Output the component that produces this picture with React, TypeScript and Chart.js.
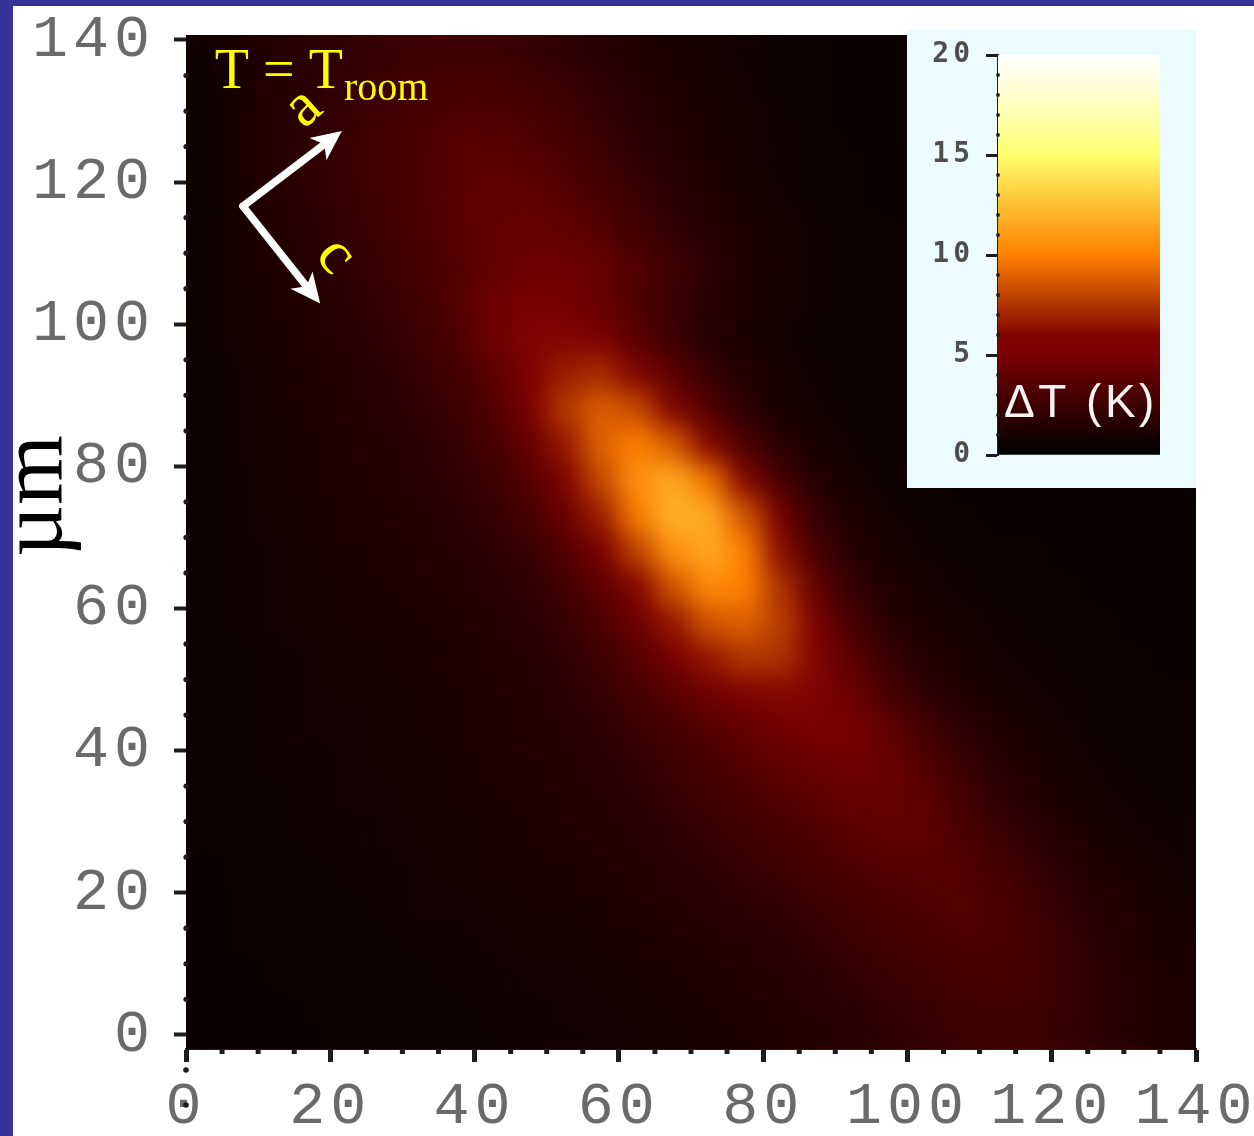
import React, { useEffect, useRef } from "react";
import { Chart, registerables } from "chart.js";

Chart.register(...registerables);

const majorTicks = [0, 20, 40, 60, 80, 100, 120, 140];
const minorTicks = [5, 10, 15, 25, 30, 35, 45, 50, 55, 65, 70, 75, 85, 90, 95, 105, 110, 115, 125, 130, 135];
const columnCenters = [2.5, 7.5, 12.5, 17.5, 22.5, 27.5, 32.5, 37.5, 42.5, 47.5, 52.5, 57.5, 62.5, 67.5, 72.5, 77.5, 82.5, 87.5, 92.5, 97.5, 102.5, 107.5, 112.5, 117.5, 122.5, 127.5, 132.5, 137.5];
const rowCenters = [138.5, 133, 128, 123, 118, 113, 108, 103, 98, 93, 88, 83, 78, 73, 68, 63, 58, 53, 48, 43, 38, 33, 28, 23, 18, 13, 8, 3, -2];

const deltaT = [
  [.5, 1.0, 1.4, 1.7, 2.0, 2.2, 2.4, 2.5, 2.4, 2.2, 1.9, 1.6, 1.3, 1.1, .9, .7, .6, .5, .4, .4, .3, .3, .3, .3, .3, .3, .3, .3],
  [.5, 1.1, 1.5, 1.9, 2.2, 2.5, 2.8, 3.0, 3.0, 2.7, 2.4, 2.0, 1.6, 1.3, 1.0, .8, .6, .5, .4, .4, .3, .3, .3, .3, .3, .3, .3, .3],
  [.5, 1.1, 1.6, 2.0, 2.3, 2.7, 3.1, 3.4, 3.5, 3.2, 2.8, 2.3, 1.8, 1.4, 1.1, .9, .7, .5, .4, .4, .3, .3, .3, .3, .3, .3, .3, .3],
  [.5, 1.1, 1.6, 2.0, 2.4, 2.8, 3.2, 3.6, 3.8, 3.6, 3.2, 2.6, 2.0, 1.6, 1.2, .9, .7, .6, .5, .4, .4, .3, .3, .3, .3, .3, .3, .3],
  [.5, 1.1, 1.5, 1.9, 2.3, 2.7, 3.2, 3.7, 4.0, 4.0, 3.6, 3.0, 2.4, 1.8, 1.4, 1.0, .8, .6, .5, .4, .4, .4, .3, .3, .3, .3, .3, .3],
  [.5, 1.0, 1.4, 1.8, 2.2, 2.6, 3.1, 3.6, 4.1, 4.3, 4.1, 3.5, 2.8, 2.1, 1.6, 1.2, .9, .7, .5, .5, .4, .4, .4, .3, .3, .3, .3, .3],
  [.5, 1.0, 1.3, 1.6, 2.0, 2.4, 2.9, 3.4, 4.1, 4.6, 4.7, 4.2, 3.4, 2.6, 1.9, 1.3, 1.0, .7, .6, .5, .4, .4, .4, .4, .4, .4, .4, .4],
  [.5, .9, 1.2, 1.5, 1.8, 2.2, 2.7, 3.5, 4.6, 5.1, 4.9, 4.3, 3.3, 2.4, 1.7, 1.2, .9, .7, .5, .5, .4, .4, .4, .4, .4, .4, .4, .4],
  [.5, .9, 1.1, 1.4, 1.7, 2.0, 2.5, 3.2, 4.6, 5.8, 6.0, 5.2, 3.8, 2.5, 1.6, 1.1, .8, .6, .5, .5, .4, .4, .4, .4, .4, .4, .4, .4],
  [.5, .8, 1.0, 1.3, 1.5, 1.8, 2.2, 2.8, 3.8, 5.4, 6.8, 7.2, 5.8, 3.8, 2.3, 1.4, .9, .7, .5, .5, .4, .4, .4, .4, .4, .4, .4, .4],
  [.5, .8, 1.0, 1.2, 1.4, 1.7, 2.0, 2.5, 3.4, 5.0, 7.6, 8.9, 8.2, 5.8, 3.4, 1.9, 1.1, .8, .6, .5, .4, .4, .4, .4, .4, .4, .4, .4],
  [.5, .8, .9, 1.1, 1.3, 1.5, 1.8, 2.2, 2.9, 4.2, 6.6, 9.0, 10.0, 8.8, 6.0, 3.2, 1.7, 1.0, .7, .5, .5, .4, .4, .4, .4, .4, .4, .4],
  [.5, .7, .9, 1.1, 1.3, 1.4, 1.7, 2.0, 2.5, 3.5, 5.6, 8.2, 10.6, 11.6, 9.6, 6.0, 3.0, 1.5, .9, .6, .5, .4, .4, .4, .4, .4, .4, .4],
  [.5, .7, .9, 1.0, 1.2, 1.3, 1.5, 1.8, 2.2, 2.9, 4.4, 6.8, 9.8, 12.0, 11.6, 8.6, 4.8, 2.2, 1.2, .8, .6, .5, .4, .4, .4, .4, .4, .4],
  [.5, .7, .8, 1.0, 1.1, 1.2, 1.4, 1.6, 1.9, 2.3, 3.4, 5.0, 8.0, 10.6, 11.6, 10.0, 6.2, 3.0, 1.6, 1.0, .7, .6, .5, .5, .4, .4, .4, .4],
  [.5, .7, .8, .9, 1.0, 1.1, 1.3, 1.4, 1.7, 2.0, 2.7, 3.9, 6.0, 8.6, 10.4, 10.0, 7.4, 4.0, 2.2, 1.3, .9, .7, .6, .5, .5, .4, .4, .4],
  [.5, .7, .8, .9, 1.0, 1.0, 1.1, 1.3, 1.5, 1.8, 2.3, 3.2, 4.6, 6.6, 8.6, 9.0, 7.8, 5.0, 2.9, 1.7, 1.1, .9, .7, .6, .5, .5, .4, .4],
  [.5, .6, .7, .8, .9, 1.0, 1.1, 1.2, 1.4, 1.6, 2.0, 2.6, 3.6, 5.0, 6.6, 7.6, 7.4, 5.8, 3.8, 2.3, 1.5, 1.1, .8, .7, .6, .5, .5, .4],
  [.5, .6, .7, .8, .9, .9, 1.0, 1.1, 1.3, 1.5, 1.8, 2.2, 2.9, 3.7, 4.7, 5.6, 6.1, 5.6, 4.4, 3.0, 2.0, 1.4, 1.0, .8, .7, .6, .5, .5],
  [.5, .6, .7, .8, .8, .9, 1.0, 1.1, 1.2, 1.4, 1.6, 1.9, 2.4, 2.9, 3.5, 4.2, 4.8, 5.2, 5.0, 4.0, 2.8, 1.9, 1.3, 1.0, .8, .6, .6, .5],
  [.5, .6, .7, .7, .8, .9, .9, 1.0, 1.2, 1.3, 1.5, 1.7, 2.1, 2.5, 3.0, 3.5, 4.0, 4.5, 4.7, 4.4, 3.4, 2.4, 1.7, 1.2, .9, .7, .6, .5],
  [.5, .6, .6, .7, .8, .8, .9, 1.0, 1.1, 1.2, 1.4, 1.6, 1.8, 2.2, 2.6, 3.0, 3.4, 3.8, 4.2, 4.3, 3.8, 2.9, 2.1, 1.5, 1.1, .8, .7, .6],
  [.5, .5, .6, .7, .7, .8, .9, .9, 1.0, 1.1, 1.3, 1.4, 1.6, 1.9, 2.2, 2.6, 2.9, 3.3, 3.7, 3.9, 3.9, 3.3, 2.5, 1.9, 1.4, 1.0, .8, .7],
  [.4, .5, .6, .6, .7, .7, .8, .9, 1.0, 1.0, 1.1, 1.3, 1.5, 1.7, 1.9, 2.2, 2.5, 2.9, 3.2, 3.5, 3.6, 3.5, 2.9, 2.3, 1.7, 1.2, 1.0, .8],
  [.4, .5, .5, .6, .6, .7, .8, .8, .9, 1.0, 1.0, 1.1, 1.3, 1.5, 1.7, 1.9, 2.1, 2.4, 2.8, 3.1, 3.3, 3.5, 3.2, 2.6, 2.0, 1.5, 1.2, .9],
  [.4, .5, .5, .5, .6, .6, .7, .7, .8, .9, .9, 1.0, 1.1, 1.3, 1.4, 1.6, 1.8, 2.1, 2.4, 2.7, 3.0, 3.2, 3.2, 2.8, 2.2, 1.7, 1.3, 1.0],
  [.4, .4, .5, .5, .5, .6, .6, .7, .7, .8, .8, .9, 1.0, 1.1, 1.2, 1.4, 1.6, 1.8, 2.1, 2.4, 2.6, 2.9, 3.0, 2.8, 2.3, 1.8, 1.4, 1.1],
  [.3, .4, .4, .5, .5, .5, .6, .6, .7, .7, .8, .8, .9, 1.0, 1.1, 1.2, 1.4, 1.6, 1.8, 2.1, 2.3, 2.6, 2.7, 2.6, 2.2, 1.8, 1.4, 1.1],
  [.3, .4, .4, .4, .5, .5, .5, .6, .6, .7, .7, .8, .8, .9, 1.0, 1.1, 1.3, 1.4, 1.6, 1.9, 2.1, 2.3, 2.5, 2.4, 2.1, 1.7, 1.3, 1.0],
];

const colorValues = [0, 5, 6, 10, 12.5, 15, 17.5, 20];
const colorStops = [[0, 0, 0], [120, 0, 0], [128, 6, 0], [255, 128, 0], [255, 192, 50], [255, 255, 110], [255, 255, 190], [255, 255, 255]];

const barValues = [20];
const barTicks = [0, 5, 10, 15, 20];
const barMinorTicks = [1, 2, 3, 4, 6, 7, 8, 9, 11, 12, 13, 14, 16, 17, 18, 19];

const arrowOrigin = { x: 7.9, y: 116.6 };
const arrowA = { x: 21.6, y: 127.2 };
const arrowC = { x: 18.6, y: 102.9 };

const TICK = "#1c1c1c";
const LABEL = "#6a6a6a";
const YELLOW = "#ffff00";

function colorFor(v: number) {
  let i = 0;
  while (i < colorValues.length - 2 && v > colorValues[i + 1]) i++;
  const t = Math.min(1, Math.max(0, (v - colorValues[i]) / (colorValues[i + 1] - colorValues[i])));
  const c = colorStops[i].map((a, k) => Math.round(a + (colorStops[i + 1][k] - a) * t));
  return `rgb(${c[0]},${c[1]},${c[2]})`;
}

const heatPoints: { x: number; y: number }[] = [];
const heatColors: string[] = [];
rowCenters.forEach((y, r) => {
  columnCenters.forEach((x, c) => {
    heatPoints.push({ x, y });
    heatColors.push(colorFor(deltaT[r][c]));
  });
});

function rotatedText(ctx: any, text: string, x: number, y: number, deg: number, font: string, color: string) {
  ctx.save();
  ctx.translate(x, y);
  ctx.rotate((deg * Math.PI) / 180);
  ctx.font = font;
  ctx.fillStyle = color;
  ctx.textAlign = "center";
  ctx.textBaseline = "alphabetic";
  ctx.fillText(text, 0, 0);
  ctx.restore();
}

function arrow(ctx: any, x0: number, y0: number, x1: number, y1: number) {
  const ang = Math.atan2(y1 - y0, x1 - x0);
  const head = 30;
  const half = 14;
  const inset = 8;
  const bx = x1 - head * Math.cos(ang);
  const by = y1 - head * Math.sin(ang);
  ctx.save();
  ctx.strokeStyle = "#ffffff";
  ctx.fillStyle = "#ffffff";
  ctx.lineWidth = 7.5;
  ctx.lineCap = "round";
  ctx.beginPath();
  ctx.moveTo(x0, y0);
  ctx.lineTo(bx + inset * Math.cos(ang), by + inset * Math.sin(ang));
  ctx.stroke();
  ctx.beginPath();
  ctx.moveTo(x1, y1);
  ctx.lineTo(bx + half * Math.sin(ang), by - half * Math.cos(ang));
  ctx.lineTo(bx + inset * Math.cos(ang), by + inset * Math.sin(ang));
  ctx.lineTo(bx - half * Math.sin(ang), by + half * Math.cos(ang));
  ctx.closePath();
  ctx.fill();
  ctx.restore();
}

const clearPadding = (s: any) => {
  s.paddingTop = 0;
  s.paddingBottom = 0;
  s.paddingLeft = 0;
  s.paddingRight = 0;
};

const smoothPlugin = {
  id: "smooth",
  beforeDraw(chart: any) {
    chart.ctx.letterSpacing = "5px";
  },
  afterDatasetsDraw(chart: any) {
    const a = chart.chartArea;
    const w = a.right - a.left;
    const h = a.bottom - a.top;
    const pad = 50;
    const tmp = document.createElement("canvas");
    tmp.width = w + 2 * pad;
    tmp.height = h + 2 * pad;
    const t = tmp.getContext("2d")!;
    t.drawImage(chart.canvas, a.left, a.top, w, h, 0, 0, w + 2 * pad, h + 2 * pad);
    t.drawImage(chart.canvas, a.left, a.top, w, h, pad, pad, w, h);
    const ctx = chart.ctx;
    ctx.save();
    ctx.beginPath();
    ctx.rect(a.left, a.top, w, h);
    ctx.clip();
    ctx.filter = "blur(13px)";
    ctx.drawImage(tmp, a.left - pad, a.top - pad);
    ctx.restore();
  },
  afterDraw(chart: any) {
    const ctx = chart.ctx;
    const xs = chart.scales.x;
    const ys = chart.scales.y;
    const a = chart.chartArea;
    ctx.save();
    ctx.letterSpacing = "0px";
    ctx.fillStyle = TICK;
    minorTicks.forEach((v) => {
      ctx.fillRect(xs.getPixelForValue(v) - 2.5, a.bottom, 5, 5);
      ctx.beginPath();
      ctx.arc(a.left, ys.getPixelForValue(v), 2.6, 0, Math.PI * 2);
      ctx.fill();
    });
    [1070, 1105].forEach((py) => {
      ctx.beginPath();
      ctx.arc(a.left, py, 2.8, 0, Math.PI * 2);
      ctx.fill();
    });

    arrow(ctx, xs.getPixelForValue(arrowOrigin.x), ys.getPixelForValue(arrowOrigin.y), xs.getPixelForValue(arrowA.x), ys.getPixelForValue(arrowA.y));
    arrow(ctx, xs.getPixelForValue(arrowOrigin.x), ys.getPixelForValue(arrowOrigin.y), xs.getPixelForValue(arrowC.x), ys.getPixelForValue(arrowC.y));

    ctx.font = "56px 'Liberation Serif'";
    ctx.fillStyle = YELLOW;
    ctx.textAlign = "left";
    ctx.textBaseline = "alphabetic";
    ctx.fillText("T = T", xs.getPixelForValue(4), ys.getPixelForValue(133.3));
    ctx.font = "40px 'Liberation Serif'";
    ctx.fillText("room", xs.getPixelForValue(21.9), ys.getPixelForValue(131.6));
    rotatedText(ctx, "a", xs.getPixelForValue(17.8), ys.getPixelForValue(128.7), -42, "62px 'Liberation Serif'", YELLOW);
    rotatedText(ctx, "c", xs.getPixelForValue(19), ys.getPixelForValue(108.1), 50, "62px 'Liberation Serif'", YELLOW);
    rotatedText(ctx, "\u00b5m", 62, 496, -90, "90px 'Liberation Serif'", "#000000");
    ctx.restore();
  },
};

const insetPlugin = {
  id: "inset",
  beforeDraw(chart: any) {
    const ctx = chart.ctx;
    ctx.save();
    ctx.fillStyle = "#ecfbfd";
    ctx.fillRect(0, 0, chart.width, chart.height);
    ctx.restore();
    ctx.letterSpacing = "4px";
  },
  afterDraw(chart: any) {
    const ctx = chart.ctx;
    const ys = chart.scales.y;
    const a = chart.chartArea;
    ctx.save();
    ctx.letterSpacing = "0px";
    ctx.fillStyle = TICK;
    barMinorTicks.forEach((v) => {
      ctx.beginPath();
      ctx.arc(a.left, ys.getPixelForValue(v), 1.9, 0, Math.PI * 2);
      ctx.fill();
    });
    ctx.letterSpacing = "3.5px";
    ctx.font = "46px 'Liberation Sans'";
    ctx.fillStyle = "#fff4f2";
    ctx.textAlign = "left";
    ctx.textBaseline = "alphabetic";
    ctx.fillText("\u0394T (K)", a.left + 6, ys.getPixelForValue(1.9));
    ctx.restore();
  },
};

export default function App() {
  const mainRef = useRef<HTMLCanvasElement>(null);
  const insetRef = useRef<HTMLCanvasElement>(null);

  useEffect(() => {
    const main = new Chart(mainRef.current!, {
      type: "scatter",
      data: {
        datasets: [
          {
            data: heatPoints,
            pointStyle: "rect",
            pointRadius: 26,
            pointHoverRadius: 26,
            pointBorderWidth: 0,
            pointBackgroundColor: heatColors,
            showLine: false,
          },
        ],
      },
      options: {
        responsive: false,
        animation: false,
        events: [],
        layout: { padding: { left: 0, top: 35, right: 58, bottom: 0 } },
        plugins: { legend: { display: false }, tooltip: { enabled: false }, title: { display: false } },
        scales: {
          x: {
            type: "linear",
            min: 0,
            max: 140,
            afterBuildTicks: (s: any) => {
              s.ticks = majorTicks.map((value) => ({ value }));
            },
            afterFit: (s: any) => {
              s.height = 87;
              clearPadding(s);
            },
            grid: { drawOnChartArea: false, drawTicks: true, tickLength: 13, tickWidth: 5, tickColor: TICK },
            border: { display: true, color: TICK, width: 2 },
            ticks: {
              autoSkip: false,
              maxRotation: 0,
              padding: 9,
              color: LABEL,
              font: { family: "'Liberation Mono'", size: 60 },
            },
          },
          y: {
            type: "linear",
            min: -2,
            max: 140.7,
            afterBuildTicks: (s: any) => {
              s.ticks = majorTicks.map((value) => ({ value }));
            },
            afterFit: (s: any) => {
              s.width = 186;
              clearPadding(s);
            },
            grid: { drawOnChartArea: false, drawTicks: true, tickLength: 12, tickWidth: 4, tickColor: TICK },
            border: { display: false },
            ticks: {
              autoSkip: false,
              padding: 19,
              color: LABEL,
              font: { family: "'Liberation Mono'", size: 60 },
            },
          },
        },
      },
      plugins: [smoothPlugin],
    } as any);

    const inset = new Chart(insetRef.current!, {
      type: "bar",
      data: {
        labels: ["\u0394T"],
        datasets: [
          {
            data: barValues,
            barPercentage: 1,
            categoryPercentage: 1,
            backgroundColor: (c: any) => {
              const s = c.chart.scales.y;
              const bottom = s ? s.getPixelForValue(0) : NaN;
              const top = s ? s.getPixelForValue(20) : NaN;
              if (!Number.isFinite(bottom) || !Number.isFinite(top)) return "#000";
              const g = c.chart.ctx.createLinearGradient(0, bottom, 0, top);
              colorValues.forEach((v, i) => {
                const p = colorStops[i];
                g.addColorStop(v / 20, `rgb(${p[0]},${p[1]},${p[2]})`);
              });
              return g;
            },
          },
        ],
      },
      options: {
        responsive: false,
        animation: false,
        events: [],
        layout: { padding: { left: 0, top: 25, right: 36, bottom: 33 } },
        plugins: { legend: { display: false }, tooltip: { enabled: false }, title: { display: false } },
        scales: {
          x: { display: false },
          y: {
            type: "linear",
            min: 0,
            max: 20,
            afterBuildTicks: (s: any) => {
              s.ticks = barTicks.map((value) => ({ value }));
            },
            afterFit: (s: any) => {
              s.width = 91;
              clearPadding(s);
            },
            grid: { drawOnChartArea: false, drawTicks: true, tickLength: 12, tickWidth: 3, tickColor: TICK },
            border: { display: true, color: TICK, width: 2 },
            ticks: {
              autoSkip: false,
              padding: 12,
              color: "#4e4e4e",
              font: { family: "'DejaVu Sans Mono'", size: 28, weight: "bold" },
            },
          },
        },
      },
      plugins: [insetPlugin],
    } as any);

    return () => {
      main.destroy();
      inset.destroy();
    };
  }, []);

  return (
    <div style={{ position: "absolute", left: 0, top: 0, width: 1254, height: 1136, background: "#333399", overflow: "hidden" }}>
      <div style={{ position: "absolute", left: 13, top: 6, width: 1241, height: 1130, background: "#ffffff" }} />
      <canvas ref={mainRef} width={1254} height={1136} style={{ position: "absolute", left: 0, top: 0, width: 1254, height: 1136 }} />
      <canvas ref={insetRef} width={289} height={458} style={{ position: "absolute", left: 907, top: 30, width: 289, height: 458 }} />
    </div>
  );
}
